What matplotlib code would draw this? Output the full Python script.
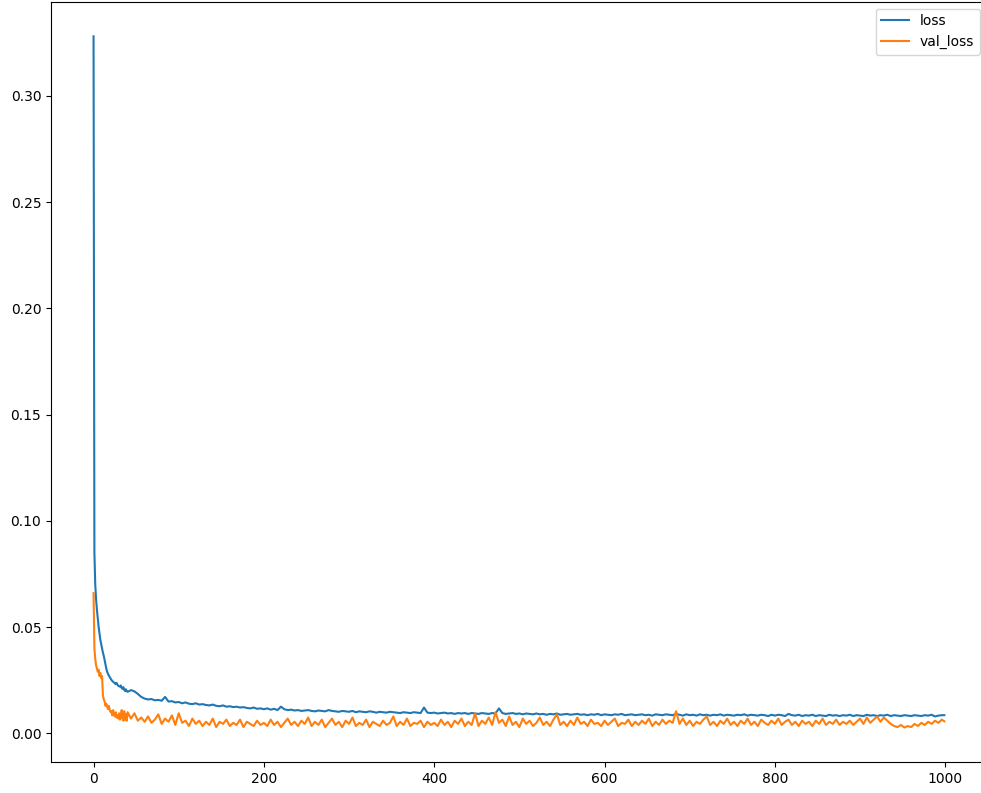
import matplotlib
matplotlib.use('Agg')
import matplotlib.pyplot as plt

# epochs: every epoch at the start, then every 4th
epochs = list(range(40)) + list(range(40, 1000, 4)) + [999]

# loss values x 1e-4
loss_e4 = [
    3280, 850, 700, 630, 580, 540, 500, 470, 440, 420,
    400, 380, 365, 345, 325, 305, 290, 280, 272, 265,
    258, 252, 247, 243, 240, 236, 232, 238, 230, 224,
    222, 220, 226, 214, 210, 218, 205, 200, 208, 198,
    196, 204, 198, 186, 172, 164, 160, 162, 156, 158,
    154, 172, 150, 152, 146, 148, 142, 146, 140, 138,
    142, 136, 138, 134, 132, 136, 130, 128, 132, 126,
    128, 124, 126, 122, 124, 120, 118, 122, 116, 118,
    114, 118, 112, 116, 110, 126, 114, 110, 112, 108,
    110, 106, 108, 110, 106, 104, 108, 106, 104, 110,
    106, 104, 102, 106, 104, 102, 106, 100, 104, 102,
    100, 104, 102, 98, 102, 100, 98, 102, 100, 98,
    96, 100, 98, 96, 100, 98, 96, 122, 98, 96,
    98, 94, 96, 98, 94, 96, 92, 96, 94, 96,
    92, 96, 94, 92, 96, 94, 92, 96, 94, 118,
    96, 92, 94, 96, 92, 94, 90, 94, 92, 90,
    94, 90, 92, 88, 92, 90, 94, 88, 90, 92,
    88, 90, 92, 88, 90, 86, 90, 88, 92, 86,
    90, 88, 86, 90, 88, 92, 86, 88, 90, 86,
    88, 90, 86, 88, 84, 90, 88, 86, 90, 88,
    86, 92, 88, 84, 90, 86, 88, 84, 90, 86,
    88, 84, 88, 86, 90, 84, 88, 86, 84, 88,
    86, 90, 84, 88, 86, 84, 88, 86, 82, 88,
    84, 88, 86, 82, 92, 86, 84, 88, 82, 86,
    84, 88, 82, 86, 84, 82, 88, 84, 86, 82,
    86, 84, 88, 82, 86, 84, 82, 88, 84, 86,
    82, 86, 84, 88, 82, 86, 84, 82, 86, 84,
    82, 86, 84, 82, 86, 84, 88, 80, 84, 86,
    86,
]

# val_loss values x 1e-4
val_loss_e4 = [
    660, 400, 350, 320, 305, 290, 300, 270, 285, 260,
    270, 180, 160, 150, 130, 140, 125, 115, 130, 110,
    100, 105, 85, 110, 90, 80, 100, 75, 85, 70,
    95, 65, 80, 110, 70, 60, 105, 65, 90, 60,
    100, 70, 95, 60, 75, 55, 80, 50, 65, 90,
    45, 70, 55, 85, 40, 95, 50, 60, 35, 70,
    45, 60, 35, 55, 40, 70, 30, 55, 45, 65,
    35, 50, 40, 65, 30, 55, 45, 35, 60, 40,
    50, 35, 65, 40, 55, 30, 50, 70, 40, 55,
    35, 60, 45, 75, 35, 55, 40, 65, 30, 50,
    70, 40, 55, 30, 60, 45, 75, 35, 50, 40,
    65, 30, 55, 45, 35, 60, 40, 50, 80, 35,
    55, 40, 70, 35, 50, 45, 60, 30, 55, 40,
    50, 35, 65, 40, 55, 30, 60, 45, 70, 35,
    55, 40, 95, 35, 60, 45, 75, 40, 100, 50,
    65, 35, 80, 40, 55, 30, 70, 45, 60, 35,
    50, 75, 40, 55, 35, 65, 90, 40, 55, 35,
    60, 40, 75, 45, 55, 35, 65, 45, 50, 35,
    60, 40, 55, 70, 35, 50, 45, 65, 35, 55,
    40, 60, 45, 70, 35, 55, 40, 65, 45, 60,
    50, 105, 45, 70, 40, 60, 35, 55, 45, 65,
    80, 40, 55, 35, 60, 45, 70, 40, 55, 35,
    60, 45, 70, 40, 55, 35, 65, 50, 40, 60,
    45, 70, 40, 55, 65, 40, 55, 35, 60, 45,
    55, 35, 60, 45, 70, 40, 55, 45, 65, 40,
    55, 45, 60, 40, 55, 70, 45, 75, 50, 65,
    80, 55, 75, 60, 45, 35, 30, 40, 28, 35,
    30, 45, 35, 50, 40, 55, 45, 60, 50, 65,
    57,
]

loss = [v / 10000 for v in loss_e4]
val_loss = [v / 10000 for v in val_loss_e4]

fig = plt.figure(figsize=(9.81, 7.93), dpi=100)
ax = fig.add_axes([0.052, 0.039, 0.954, 0.9588])

ax.plot(epochs, loss, color='#1f77b4', label='loss')
ax.plot(epochs, val_loss, color='#ff7f0e', label='val_loss')

ax.set_xticks([0, 200, 400, 600, 800, 1000])
ax.set_yticks([0.00, 0.05, 0.10, 0.15, 0.20, 0.25, 0.30])
ax.legend(loc='upper right')

plt.savefig('out.png', dpi=100)
